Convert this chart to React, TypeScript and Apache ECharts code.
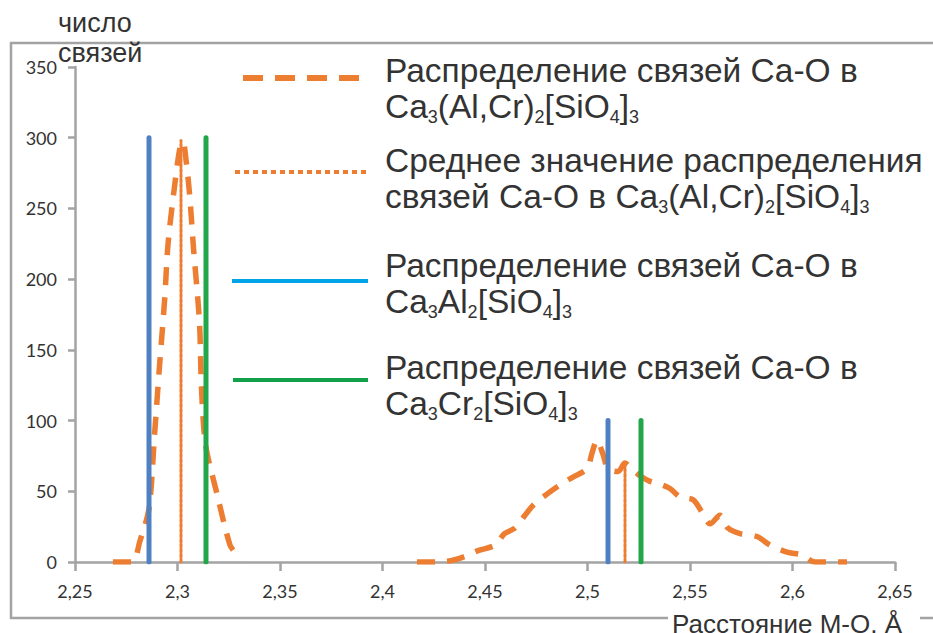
import React, { useEffect, useRef } from "react";
import * as echarts from "echarts";

// Ca-O bond length distribution in Ca3(Al,Cr)2[SiO4]3 (two peaks)
const peakShort: [number, number][] = [
  [2.2685, 0], [2.2778, 0], [2.2817, 15], [2.2861, 38], [2.2888, 90],
  [2.2912, 138], [2.2937, 185], [2.2954, 225], [2.2985, 265], [2.3012, 293],
  [2.3027, 297], [2.3041, 285], [2.3059, 260], [2.3078, 222], [2.3107, 170],
  [2.3117, 123], [2.3137, 83], [2.3193, 48], [2.3256, 12], [2.3285, 6],
];
const peakLong: [number, number][] = [
  [2.4168, 0], [2.4261, 0], [2.4335, 1], [2.4402, 4], [2.4466, 8],
  [2.4549, 12], [2.4595, 20], [2.4646, 24], [2.4695, 33], [2.4734, 40],
  [2.4802, 48], [2.4871, 55], [2.4929, 60], [2.4998, 66], [2.5022, 77],
  [2.5046, 86], [2.5076, 76], [2.51, 66], [2.5149, 64], [2.5183, 70],
  [2.5207, 67], [2.5256, 61], [2.5305, 57], [2.5354, 55], [2.5402, 52],
  [2.5451, 46], [2.5515, 44], [2.5559, 35], [2.5598, 27], [2.5646, 33],
  [2.5685, 24], [2.5744, 20], [2.5827, 18], [2.589, 12], [2.5973, 7],
  [2.6046, 5], [2.611, 0], [2.6266, 0],
];

// mean of the mixed-garnet distribution: [position, height]
const meanLines: [number, number][] = [[2.3017, 298], [2.5183, 70]];
// Ca3Al2[SiO4]3 bonds
const grossularLines: [number, number][] = [[2.2861, 300], [2.51, 100]];
// Ca3Cr2[SiO4]3 bonds
const uvaroviteLines: [number, number][] = [[2.3139, 300], [2.5261, 100]];

const xTicks = { min: 2.25, max: 2.65, step: 0.05 };
const yTicks = { min: 0, max: 350, step: 50 };

const ORANGE = "#ED7D31";
const BLUE = "#4F81C2";
const GREEN = "#21A74A";
const LEGEND_BLUE = "#00A3E6";
const LEGEND_GREEN = "#12A14A";
const AXIS_GRAY = "#a3a3a3";
const TEXT = "#333333";
const SANS = "'Liberation Sans', Arial, Helvetica, sans-serif";
const TICK_FONT = "Lato, 'Open Sans', sans-serif";

const vertical = (pairs: [number, number][], name: string, color: string, width: number, type: any, z: number) =>
  pairs.map(([x, h]) => ({
    type: "line",
    name,
    data: [[x, 0], [x, h]],
    showSymbol: false,
    symbol: "none",
    z,
    lineStyle: { color, width, type, cap: "round" },
  }));

const LEGEND_SIZE = 33.5;

const rich = {
  n: { fontSize: LEGEND_SIZE, fontFamily: SANS, fill: TEXT, color: TEXT, verticalAlign: "middle" },
  s: { fontSize: 18, fontFamily: SANS, fill: TEXT, color: TEXT, verticalAlign: "middle", padding: [22, 0, 0, 0] },
};

const legendText = (x: number, y: number, text: string) => ({
  type: "text",
  x,
  y,
  z: 100,
  style: {
    text,
    rich,
    fontSize: LEGEND_SIZE,
    fontFamily: SANS,
    fill: TEXT,
    verticalAlign: "middle",
    align: "left",
  },
});

export default function App() {
  const ref = useRef<HTMLDivElement>(null);

  useEffect(() => {
    if (!ref.current) return;
    const chart = echarts.init(ref.current, null, { renderer: "svg" });

    const curveStyle = { color: ORANGE, width: 5.5, type: [18, 12], cap: "butt" };

    chart.setOption({
      animation: false,
      backgroundColor: "#ffffff",
      grid: { left: 75, right: 38, top: 67, bottom: 71, containLabel: false, outerBoundsMode: "none" },
      xAxis: {
        type: "value",
        min: xTicks.min,
        max: xTicks.max,
        interval: xTicks.step,
        axisLine: { show: true, lineStyle: { color: AXIS_GRAY, width: 2.5 } },
        axisTick: { show: true, length: 9, lineStyle: { color: AXIS_GRAY, width: 2.5 } },
        splitLine: { show: false },
        axisLabel: {
          margin: 20,
          fontSize: 18,
          fontFamily: TICK_FONT,
          color: TEXT,
          formatter: (v: number) => String(Number(v.toFixed(2))).replace(".", ","),
        },
      },
      yAxis: {
        type: "value",
        min: yTicks.min,
        max: yTicks.max,
        interval: yTicks.step,
        axisLine: { show: true, lineStyle: { color: AXIS_GRAY, width: 2.5 } },
        axisTick: { show: true, length: 7, lineStyle: { color: AXIS_GRAY, width: 2.5 } },
        splitLine: { show: false },
        axisLabel: { margin: 18, fontSize: 18, fontFamily: TICK_FONT, color: TEXT },
      },
      series: [
        { type: "line", name: "dist", data: peakShort, smooth: 0.3, showSymbol: false, symbol: "none", z: 3, lineStyle: curveStyle },
        { type: "line", name: "dist", data: peakLong, smooth: 0.3, showSymbol: false, symbol: "none", z: 3, lineStyle: curveStyle },
        ...vertical(meanLines, "mean", ORANGE, 3, [3, 2], 4),
        ...vertical(grossularLines, "Al", BLUE, 5, "solid", 5),
        ...vertical(uvaroviteLines, "Cr", GREEN, 5, "solid", 5),
      ],
      graphic: [
        // outer frame
        { type: "rect", z: -10, shape: { x: 11, y: 43, width: 1000, height: 575 }, style: { fill: "none", stroke: AXIS_GRAY, lineWidth: 2.5 } },
        // axis titles
        { type: "text", x: 58, y: 23, z: 100, style: { text: "число", fontSize: 27, fontFamily: SANS, fill: TEXT, verticalAlign: "middle" } },
        { type: "text", x: 58, y: 53, z: 100, style: { text: "связей", fontSize: 27, fontFamily: SANS, fill: TEXT, verticalAlign: "middle" } },
        { type: "rect", z: 90, shape: { x: 668, y: 604, width: 252, height: 40 }, style: { fill: "#ffffff" } },
        { type: "text", x: 672, y: 624, z: 100, style: { text: "Расстояние М-О, Å", fontSize: 26, fontFamily: SANS, fill: TEXT, verticalAlign: "middle" } },
        // legend samples
        { type: "line", z: 100, shape: { x1: 243, y1: 78, x2: 362, y2: 78 }, style: { stroke: ORANGE, lineWidth: 6, lineDash: [20, 12] } },
        { type: "line", z: 100, shape: { x1: 235, y1: 172, x2: 368, y2: 172 }, style: { stroke: ORANGE, lineWidth: 4, lineDash: [5, 4] } },
        { type: "line", z: 100, shape: { x1: 232, y1: 281, x2: 368, y2: 281 }, style: { stroke: LEGEND_BLUE, lineWidth: 4 } },
        { type: "line", z: 100, shape: { x1: 233, y1: 380, x2: 368, y2: 380 }, style: { stroke: LEGEND_GREEN, lineWidth: 4 } },
        // legend texts
        legendText(385, 70, "{n|Распределение связей Ca-O в}"),
        legendText(385, 106, "{n|Ca}{s|3}{n|(Al,Cr)}{s|2}{n|[SiO}{s|4}{n|]}{s|3}"),
        legendText(385, 160, "{n|Среднее значение распределения}"),
        legendText(385, 196, "{n|связей Ca-O в Ca}{s|3}{n|(Al,Cr)}{s|2}{n|[SiO}{s|4}{n|]}{s|3}"),
        legendText(385, 265, "{n|Распределение связей Ca-O в}"),
        legendText(385, 301, "{n|Ca}{s|3}{n|Al}{s|2}{n|[SiO}{s|4}{n|]}{s|3}"),
        legendText(385, 367, "{n|Распределение связей Ca-O в}"),
        legendText(385, 403, "{n|Ca}{s|3}{n|Cr}{s|2}{n|[SiO}{s|4}{n|]}{s|3}"),
      ],
    });

    return () => chart.dispose();
  }, []);

  return (
    <div
      ref={ref}
      style={{ position: "absolute", left: 0, top: 0, width: 933, height: 633, background: "#ffffff" }}
    />
  );
}
